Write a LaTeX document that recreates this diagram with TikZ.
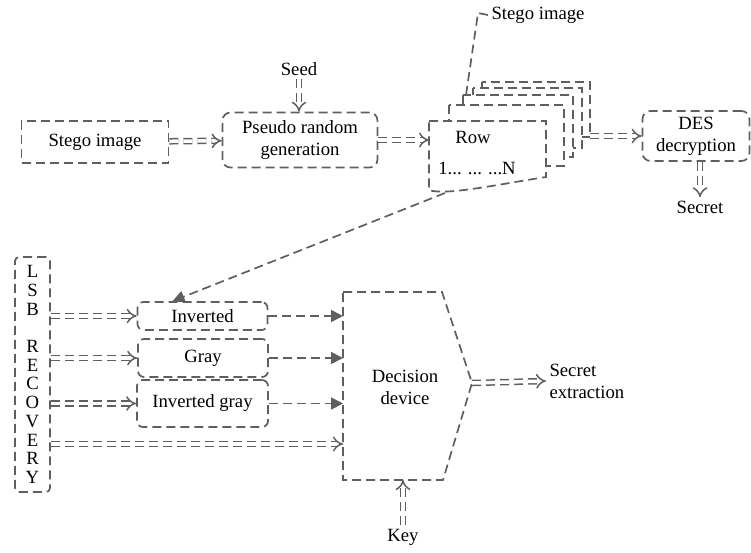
\documentclass[tikz,border=0pt]{standalone}
\usepackage{fontspec}
\setmainfont{Liberation Serif}
\usetikzlibrary{arrows.meta}
\definecolor{linegray}{RGB}{95,95,95}
\tikzset{
  dsh/.style={draw=linegray,line width=1.7pt,dash pattern=on 9pt off 5pt},
  blk/.style={dsh,align=center},
  rblk/.style={blk,rounded corners=8pt},
  dbl/.style={dsh,line width=1.5pt,double,double distance=3.5pt,-{Implies[scale=1.6]}},
  tri/.style={dsh,-{Triangle[length=12pt,width=12pt]}}
}
\begin{document}
\begin{tikzpicture}[x=1pt,y=-1pt,font=\fontsize{18.7}{22}\selectfont]
\useasboundingbox (0,0) rectangle (751,552);
% top row
\node[blk,minimum width=147,minimum height=42](stego) at (95,142){Stego image};
\node[rblk,minimum width=155,minimum height=55](prg) at (300,140){Pseudo random\\generation};
\node(seed) at (299,69){Seed};
\node[rblk,minimum width=107,minimum height=50](des) at (696,136){DES\\decryption};
\node(secret) at (700,207){Secret};
\node(stego2) at (538,15){Stego image};
% row stack
\coordinate(stk) at (466,95);
\coordinate(rowfront) at (429,140);
\coordinate(rowback) at (590,134);
\coordinate(rowbot) at (445,193);
\draw[dsh](stego2.west) -- (478,13) -- (stk);
\foreach \l/\r/\t/\b in {482/590/82/137,473/582/88/148,463/573/95/157,449/564/105/166}
  \draw[dsh,fill=white](\l,\t) rectangle (\r,\b);
\draw[dsh,fill=white](429,121) -- (546,121) -- (546,177) .. controls (500,184) and (445,196) .. (429,190) -- cycle;
\node(rowlbl) at (473,137){Row};
\node(rown) at (477,168){1... ... ...N};
\draw[dbl](stego) -- (prg);
\draw[dbl](seed.south) -- (seed.south |- prg.north);
\draw[dbl](prg.east) -- (prg.east -| rowfront);
\draw[dbl](rowback |- des.west) -- (des.west);
\draw[dbl](secret.north |- des.south) -- (secret.north);
% lower part
\node[dsh,rounded corners=4pt,minimum width=35,minimum height=235,inner sep=0pt,align=center,font=\fontsize{18.7}{18.7}\selectfont](lsb) at (32.5,374.5){L\\S\\B\\[18.7pt]R\\E\\C\\O\\V\\E\\R\\Y};
\node[rblk,rounded corners=6pt,minimum width=130,minimum height=28](inv) at (202.5,316){Inverted};
\node[rblk,rounded corners=6pt,minimum width=130,minimum height=38](gray) at (203,358){Gray};
\node[rblk,rounded corners=6pt,minimum width=131,minimum height=47](invg) at (202.5,403.5){Inverted gray};
\node[align=center](dd) at (405,387){Decision\\device};
\coordinate(ddw) at (343,386);
\coordinate(ddtip) at (472,383);
\coordinate(ddlow) at (343,444);
\coordinate(ddbot) at (403,480);
\draw[dsh](343,292) -- (442,292) -- (ddtip) -- (443,480) -- (343,480) -- cycle;
\node[anchor=west,align=left](sext) at (546,381){Secret\\extraction};
\node(key) at (403,537){Key};
\draw[tri](rowbot) -- ([xshift=-30pt]inv.north);
\draw[dbl](lsb.east |- inv.west) -- (inv.west);
\draw[dbl](lsb.east |- gray.west) -- (gray.west);
\draw[dbl](lsb.east |- invg.west) -- (invg.west);
\draw[dbl](lsb.east |- ddlow) -- (ddlow);
\draw[tri](inv.east) -- (inv.east -| ddw);
\draw[tri](gray.east) -- (gray.east -| ddw);
\draw[tri](invg.east) -- (invg.east -| ddw);
\draw[dbl](ddtip) -- (sext.west);
\draw[dbl](key.north) -- (key.north |- ddbot);
\end{tikzpicture}
\end{document}
